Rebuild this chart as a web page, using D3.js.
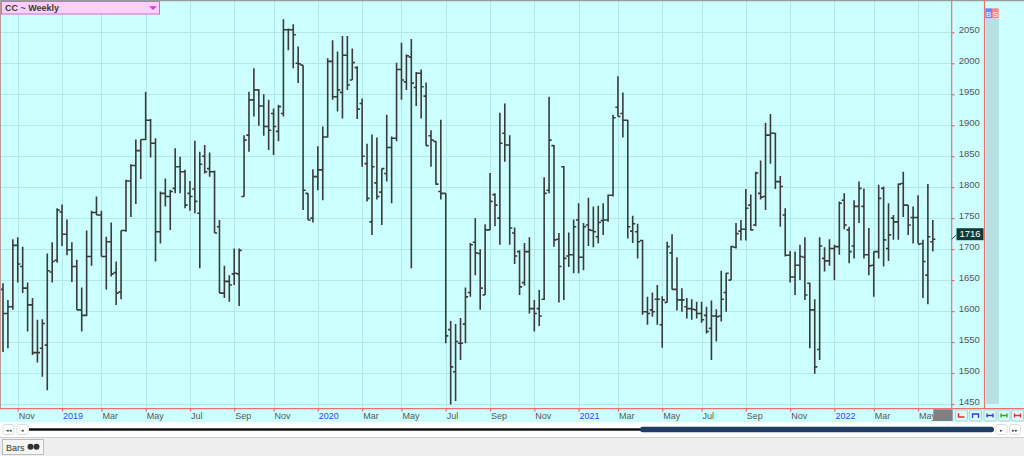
<!DOCTYPE html>
<html>
<head>
<meta charset="utf-8">
<script src="https://cdn.jsdelivr.net/npm/d3@7"></script>
<style>
html,body{margin:0;padding:0;background:#fff;}
svg{display:block;font-family:"Liberation Sans",Arial,sans-serif;}
</style>
</head>
<body>
<svg id="chart" width="1024" height="456"></svg>
<script>
// ---- data (weekly OHLC, CC ~ Weekly) ----
const opens = [1635,1596,1607,1706,1672,1637,1610,1533,1540,1545,1663,1682,1760,1724,1699,1672,1602,1593,1688,1759,1755,1688,1712,1662,1631,1730,1810,1835,1859,1877,1908,1871,1728,1790,1785,1798,1833,1825,1790,1797,1758,1850,1830,1825,1736,1629,1648,1660,1660,1785,1884,1941,1957,1931,1898,1919,1890,1919,2054,2054,2000,1997,1790,1750,1817,1828,1881,2003,1946,1953,2013,1973,1993,1935,1838,1744,1807,1792,1822,1864,1879,1990,1970,2010,1961,1984,1947,1883,1874,1793,1790,1570,1502,1548,1579,1630,1711,1693,1626,1731,1788,1750,1887,1868,1726,1696,1646,1696,1604,1604,1619,1795,1867,1716,1833,1689,1691,1747,1687,1739,1730,1720,1746,1747,1787,1929,1919,1908,1729,1728,1714,1599,1602,1619,1578,1614,1694,1635,1618,1607,1604,1602,1596,1593,1572,1592,1592,1630,1650,1703,1729,1732,1771,1739,1790,1785,1884,1887,1809,1755,1690,1655,1674,1687,1645,1602,1538,1685,1681,1701,1704,1779,1731,1705,1769,1769,1691,1674,1696,1798,1701,1750,1744,1806,1771,1751,1751,1709,1658,1712];
const highs = [1645,1618,1716,1719,1704,1646,1621,1586,1587,1693,1711,1766,1772,1748,1711,1683,1638,1730,1762,1785,1762,1720,1743,1680,1730,1812,1837,1877,1877,1954,1910,1879,1793,1814,1796,1863,1849,1828,1810,1875,1857,1868,1856,1827,1747,1673,1658,1701,1701,1884,1954,1992,1958,1950,1941,1927,1933,2071,2056,2063,2027,1997,1790,1829,1866,1898,2008,2037,2019,2044,2044,2024,1995,1943,1870,1885,1880,1830,1917,1882,2001,2033,2014,2039,1986,1990,1969,1892,1874,1909,1790,1584,1579,1589,1638,1710,1750,1700,1740,1823,1790,1920,1935,1884,1735,1698,1710,1719,1618,1634,1816,1946,1868,1726,1834,1727,1748,1774,1742,1783,1769,1770,1774,1788,1917,1979,1953,1909,1754,1741,1715,1623,1630,1642,1624,1712,1724,1687,1637,1621,1619,1615,1615,1607,1617,1603,1665,1662,1705,1742,1747,1797,1788,1825,1843,1904,1918,1888,1818,1766,1697,1696,1707,1719,1646,1619,1719,1703,1716,1707,1777,1790,1736,1779,1809,1798,1734,1696,1804,1801,1774,1755,1806,1825,1771,1769,1787,1715,1805,1747];
const lows  = [1534,1540,1602,1646,1629,1567,1529,1517,1494,1472,1646,1678,1705,1690,1647,1602,1567,1592,1673,1755,1688,1635,1656,1610,1619,1728,1752,1773,1813,1876,1848,1680,1709,1769,1731,1790,1790,1766,1762,1758,1669,1822,1817,1726,1629,1621,1615,1642,1608,1785,1857,1914,1899,1883,1860,1852,1874,1914,2021,1992,1968,1763,1747,1743,1795,1779,1880,1941,1922,1911,1957,1973,1910,1833,1777,1723,1780,1739,1809,1774,1874,1941,1957,1669,1931,1911,1867,1833,1804,1780,1548,1449,1455,1521,1548,1623,1658,1602,1626,1731,1737,1707,1841,1707,1676,1626,1641,1596,1567,1576,1618,1790,1704,1614,1618,1671,1661,1661,1666,1705,1703,1709,1723,1744,1785,1914,1880,1717,1710,1685,1594,1578,1591,1578,1541,1614,1635,1601,1599,1588,1586,1588,1581,1564,1521,1551,1583,1599,1650,1701,1714,1714,1730,1737,1780,1763,1838,1797,1736,1688,1646,1626,1650,1618,1540,1499,1521,1664,1673,1650,1691,1732,1677,1685,1742,1685,1658,1623,1685,1672,1681,1715,1715,1752,1723,1709,1709,1621,1611,1696];
const closes= [1596,1607,1706,1676,1637,1610,1533,1533,1580,1665,1680,1763,1724,1699,1672,1602,1593,1688,1759,1755,1688,1712,1660,1629,1730,1810,1835,1859,1877,1908,1871,1728,1790,1785,1793,1833,1825,1771,1785,1777,1837,1825,1825,1726,1629,1648,1642,1661,1698,1876,1941,1957,1931,1898,1892,1898,1930,2054,2054,2046,1999,1795,1747,1817,1828,1881,2003,1946,1957,2013,1965,2001,1926,1850,1782,1833,1785,1830,1864,1879,1990,1973,2012,1968,1984,1962,1867,1876,1805,1790,1560,1510,1551,1548,1623,1707,1694,1637,1731,1777,1771,1871,1868,1734,1689,1639,1696,1604,1596,1592,1790,1876,1715,1672,1685,1691,1736,1687,1736,1731,1728,1743,1747,1787,1912,1914,1908,1736,1741,1712,1599,1596,1599,1619,1618,1704,1635,1618,1618,1604,1603,1596,1586,1567,1592,1591,1619,1661,1704,1725,1732,1766,1731,1823,1784,1884,1887,1809,1801,1690,1655,1674,1688,1626,1602,1510,1705,1681,1701,1704,1774,1739,1696,1769,1798,1691,1673,1696,1782,1715,1723,1744,1805,1771,1739,1751,1708,1680,1720,1716];
const tickBars   = [3,12,20,29,38,47,55,64,73,81,90,99,108,117,125,134,142,151,160,169,177,186];
const tickLabels = ["Nov","2019","Mar","May","Jul","Sep","Nov","2020","Mar","May","Jul","Sep","Nov","2021","Mar","May","Jul","Sep","Nov","2022","Mar","May"];
const priceTicks = [1450,1500,1550,1600,1650,1700,1750,1800,1850,1900,1950,2000,2050];
const lastPrice = 1716;
const title = "CC ~ Weekly";

const bars = opens.map((o,i)=>({i, o, h:highs[i], l:lows[i], c:closes[i]}));

const svg = d3.select("#chart");
const x = d3.scaleLinear().domain([0, bars.length-1]).range([3, 932.8]);
const y = d3.scaleLinear().domain([1450, 2050]).range([404, 32.3]);

const axisY = 408.7, axisX = 951.7;
const red = "#ef6f6f";

// backgrounds
svg.append("rect").attr("x",0).attr("y",0).attr("width",1024).attr("height",422).attr("fill","#ccffff");
svg.append("rect").attr("x",0).attr("y",422).attr("width",1024).attr("height",15).attr("fill","#ffffff");
svg.append("rect").attr("x",0).attr("y",437).attr("width",1024).attr("height",19).attr("fill","#eeeeee");
svg.append("line").attr("x1",0).attr("x2",1024).attr("y1",437.5).attr("y2",437.5).attr("stroke","#cfcfcf");

// grid
const grid = svg.append("g");
grid.selectAll("line.h").data(priceTicks).join("line").attr("class","h")
  .attr("x1",1).attr("x2",axisX).attr("y1",d=>Math.round(y(d))+0.5).attr("y2",d=>Math.round(y(d))+0.5)
  .attr("stroke","#b2e8e8").attr("stroke-width",1);
grid.selectAll("line.v").data(tickBars).join("line").attr("class","v")
  .attr("x1",d=>Math.round(x(d))+0.5).attr("x2",d=>Math.round(x(d))+0.5).attr("y1",1).attr("y2",axisY)
  .attr("stroke","#b2e8e8").attr("stroke-width",1);

// OHLC bars
const g = svg.append("g").attr("stroke","#3a3a3a").attr("stroke-width",1.6).attr("fill","none");
g.selectAll("path").data(bars).join("path")
  .attr("d", d => {
    const cx = x(d.i);
    return `M${cx},${y(d.h)}V${y(d.l)}M${cx-2.6},${y(d.o)}H${cx}M${cx},${y(d.c)}H${cx+2.6}`;
  });

// frame lines
svg.append("line").attr("x1",0).attr("x2",1024).attr("y1",0.5).attr("y2",0.5).attr("stroke","#9a9a9a").attr("stroke-width",1.5);
svg.append("line").attr("x1",0.5).attr("x2",0.5).attr("y1",0).attr("y2",axisY).attr("stroke","#b89a9a");

// right price axis
const ra = svg.append("g").attr("transform",`translate(${axisX},0)`)
  .call(d3.axisRight(y).tickValues(priceTicks).tickSize(3).tickPadding(4).tickFormat(d3.format("d")));
ra.select(".domain").remove();
ra.selectAll(".tick line").attr("stroke",red).attr("stroke-width",1.2);
ra.selectAll(".tick text").attr("fill","#555").attr("font-size","9.5px").attr("dy","0.05em")
  .attr("font-family","'Liberation Sans',Arial,sans-serif");
svg.append("line").attr("x1",axisX).attr("x2",axisX).attr("y1",0).attr("y2",axisY).attr("stroke",red).attr("stroke-width",1.2);
svg.append("line").attr("x1",984.5).attr("x2",984.5).attr("y1",0).attr("y2",axisY).attr("stroke",red).attr("stroke-width",1.2);

// right strip + B/S
svg.append("rect").attr("x",986).attr("y",19).attr("width",13).attr("height",385).attr("fill","#b6e0e1");
svg.append("rect").attr("x",985.3).attr("y",8.3).attr("width",6.7).attr("height",10).attr("fill","#7580ff");
svg.append("rect").attr("x",992).attr("y",8.3).attr("width",6.7).attr("height",10).attr("fill","#ff8383");
svg.append("text").attr("x",988.6).attr("y",16.5).attr("text-anchor","middle").attr("font-size","8px").attr("fill","#fff").text("B");
svg.append("text").attr("x",995.4).attr("y",16.5).attr("text-anchor","middle").attr("font-size","8px").attr("fill","#fff").text("S");

// last price label
const ly = y(lastPrice);
svg.append("path").attr("d",`M${axisX},${ly}L956,${ly-4}`).attr("stroke","#2a4a4a").attr("fill","none");
svg.append("rect").attr("x",956.5).attr("y",ly-11).attr("width",27).attr("height",12).attr("fill","#103a3a");
svg.append("text").attr("x",970).attr("y",ly-1.8).attr("text-anchor","middle").attr("font-size","9.5px").attr("fill","#fff").text(lastPrice);

// bottom time axis
svg.append("line").attr("x1",0).attr("x2",1024).attr("y1",axisY).attr("y2",axisY).attr("stroke",red).attr("stroke-width",1.2);
const ba = svg.append("g").attr("transform",`translate(0,${axisY})`)
  .call(d3.axisBottom(x).tickValues(tickBars).tickSize(3).tickFormat((d,i)=>tickLabels[i]));
ba.select(".domain").remove();
ba.selectAll(".tick line").attr("stroke",red).attr("stroke-width",1.2);
ba.selectAll(".tick text").attr("text-anchor","start").attr("x",0.5).attr("y",3.5).attr("dy","0.71em")
  .attr("font-size","9px").attr("font-family","'Liberation Sans',Arial,sans-serif")
  .attr("fill",(d,i)=>/^\d{4}$/.test(tickLabels[i]) ? "#3d3dff" : "#555");

// bottom-right box and buttons
svg.append("rect").attr("x",933.3).attr("y",409.3).attr("width",19.4).attr("height",11.7).attr("fill","#808080");
const btnCols = ["#e03030","#2040d0","#2040d0","#20b020","#e03030"];
const btnX = [955.5,969.5,984,998,1011.5];
btnX.forEach((bx,k)=>{
  svg.append("rect").attr("x",bx).attr("y",410).attr("width",12).attr("height",11).attr("rx",1.5)
    .attr("fill","#dff9f9").attr("stroke","#a9d3d3");
  let d;
  if(k===0) d=`M${bx+3},${413}V${417}H${bx+9}`;
  else if(k===1) d=`M${bx+3},${418}V${414}H${bx+9}V${418}`;
  else d=`M${bx+3},${413.5}V${417.5}M${bx+3},${415.5}H${bx+9}M${bx+9},${413.5}V${417.5}`;
  svg.append("path").attr("d",d).attr("stroke",btnCols[k]).attr("stroke-width",1.3).attr("fill","none");
});

// scroll row
[[3,"\u25C2\u25C2"],[17,"\u25C2"]].forEach(([bx,t])=>{
  svg.append("rect").attr("x",bx).attr("y",424.5).attr("width",11).attr("height",10).attr("rx",2).attr("fill","#fff").attr("stroke","#dcdcdc");
  svg.append("text").attr("x",bx+5.5).attr("y",432).attr("text-anchor","middle").attr("font-size","5px").attr("fill","#333").text(t);
});
[[996,"\u25B8"],[1009.5,"\u25B8\u25B8"]].forEach(([bx,t])=>{
  svg.append("rect").attr("x",bx).attr("y",424.5).attr("width",11).attr("height",10).attr("rx",2).attr("fill","#fff").attr("stroke","#dcdcdc");
  svg.append("text").attr("x",bx+5.5).attr("y",432).attr("text-anchor","middle").attr("font-size","5px").attr("fill","#333").text(t);
});
svg.append("line").attr("x1",29).attr("x2",642).attr("y1",429.5).attr("y2",429.5).attr("stroke","#111").attr("stroke-width",2.6);
svg.append("rect").attr("x",640).attr("y",426.8).attr("width",354).attr("height",5.4).attr("rx",2.7).attr("fill","#1f3d66");

// bottom tab
svg.append("rect").attr("x",2.5).attr("y",439.5).attr("width",41).attr("height",15).attr("fill","#f6f6f6").attr("stroke","#bdbdbd");
svg.append("text").attr("x",6).attr("y",450.5).attr("font-size","9px").attr("fill","#333").text("Bars");
svg.append("circle").attr("cx",30.5).attr("cy",446.8).attr("r",3).attr("fill","#333");
svg.append("circle").attr("cx",36.5).attr("cy",446.8).attr("r",3).attr("fill","#333");

// title box
svg.append("rect").attr("x",1.5).attr("y",1.5).attr("width",158).attr("height",12.5).attr("fill","#f8d2f8").attr("stroke","#d865d8");
svg.append("text").attr("x",5).attr("y",11).attr("font-size","9px").attr("font-weight","bold").attr("fill","#3a3a3a").text(title);
svg.append("path").attr("d","M149,6.2H157L153,10Z").attr("fill","#d83ccc");
</script>
</body>
</html>
